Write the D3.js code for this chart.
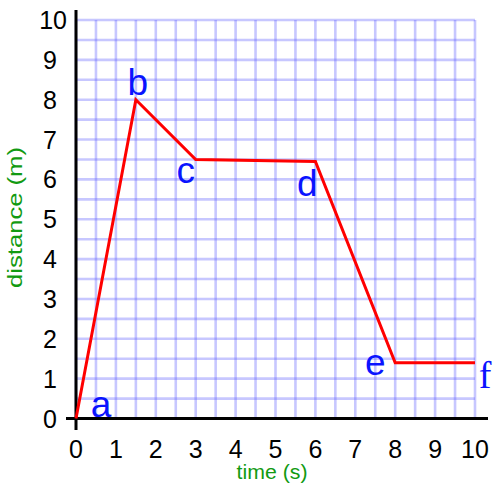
<!DOCTYPE html>
<html>
<head>
<meta charset="utf-8">
<script src="https://cdn.jsdelivr.net/npm/d3@7"></script>
<style>
  html, body { margin: 0; padding: 0; background: #fff; }
  svg { display: block; font-family: "Liberation Sans", Arial, sans-serif; }
</style>
</head>
<body>
<svg id="svg" width="496" height="487"></svg>
<script>
// data
const times = [0, 1.5, 3, 6, 8, 10];
const distances = [0, 8, 6.5, 6.45, 1.4, 1.4];
const pointNames = ["a", "b", "c", "d", "e", "f"];
const tickValues = [0, 1, 2, 3, 4, 5, 6, 7, 8, 9, 10];
const gridValues = d3.range(0, 10.01, 0.5);

const svg = d3.select("#svg");
const x = d3.scaleLinear().domain([0, 10]).range([76, 475]);
const y = d3.scaleLinear().domain([0, 10]).range([418.5, 20]);

// grid
const grid = svg.append("g").attr("stroke", "#5a5aff").attr("stroke-opacity", 0.34).attr("stroke-width", 2.6);
gridValues.forEach(v => {
  grid.append("line").attr("x1", x(v)).attr("x2", x(v)).attr("y1", y(0)).attr("y2", y(10));
  grid.append("line").attr("x1", x(0)).attr("x2", x(10)).attr("y1", y(v)).attr("y2", y(v));
});

// axes
svg.append("line").attr("x1", x(0)).attr("x2", x(0)).attr("y1", 10).attr("y2", 430)
  .attr("stroke", "#000").attr("stroke-width", 3);
svg.append("line").attr("x1", 66).attr("x2", 488).attr("y1", y(0)).attr("y2", y(0))
  .attr("stroke", "#000").attr("stroke-width", 3);

// tick labels (single digits sit further left, "10" pokes out to the axis)
svg.append("g").selectAll("text").data(tickValues).join("text")
  .attr("x", d => d >= 10 ? 67 : 57).attr("y", d => y(d)).attr("dy", "0.36em")
  .attr("text-anchor", "end").attr("font-size", 25).attr("fill", "#000")
  .text(d => d);
svg.append("g").selectAll("text").data(tickValues).join("text")
  .attr("x", d => x(d)).attr("y", 458)
  .attr("text-anchor", "middle").attr("font-size", 25).attr("fill", "#000")
  .text(d => d);

// axis titles (stretched wide like the original)
svg.append("text").attr("transform", "translate(21.5,217.5) rotate(-90)")
  .attr("text-anchor", "middle").attr("font-size", 20).attr("fill", "#129a12")
  .attr("textLength", 141).attr("lengthAdjust", "spacingAndGlyphs")
  .text("distance (m)");
svg.append("text").attr("x", 272).attr("y", 479)
  .attr("text-anchor", "middle").attr("font-size", 20).attr("fill", "#129a12")
  .attr("textLength", 71).attr("lengthAdjust", "spacingAndGlyphs")
  .text("time (s)");

// graph line
const pts = times.map((t, i) => [t, distances[i]]);
svg.append("path")
  .attr("d", d3.line().x(d => x(d[0])).y(d => y(d[1]))(pts))
  .attr("fill", "none").attr("stroke", "#ff0000").attr("stroke-width", 3)
  .attr("stroke-linejoin", "miter");

// point labels (offsets from each point)
const labelOffsets = [[25, -2], [2, -5], [-10, 24], [-8, 35], [-20, 12], [10, 25]];
svg.append("g").selectAll("text").data(pointNames).join("text")
  .attr("x", (d, i) => x(times[i]) + labelOffsets[i][0])
  .attr("y", (d, i) => y(distances[i]) + labelOffsets[i][1])
  .attr("text-anchor", "middle")
  .attr("font-size", d => d === "f" ? 38 : 37)
  .attr("font-family", d => d === "f" ? "'Liberation Serif', 'Times New Roman', serif" : null)
  .attr("fill", "#0a14ff")
  .text(d => d);
</script>
</body>
</html>
